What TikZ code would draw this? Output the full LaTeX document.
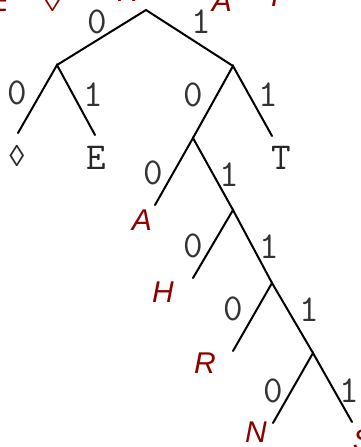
\documentclass[tikz,border=0pt]{standalone}
\usepackage{fontspec}
\setmonofont{Latin Modern Mono}
\newfontfamily\hand{Liberation Sans}
\newfontfamily\lozfont{Liberation Mono}
\begin{document}
\begin{tikzpicture}[x=1pt,y=-1pt,
 edge/.style={line width=2pt, line cap=round},
 bit/.style={font=\fontsize{38}{38}\ttfamily\selectfont, text=black!80, inner sep=0pt},
 leaf/.style={font=\fontsize{38}{38}\ttfamily\selectfont, text=black!85, inner sep=0pt},
 hw/.style={font=\hand\itshape\fontsize{30}{30}\selectfont, text=red!55!black, inner sep=0pt}]
\clip (0,0) rectangle (360,447);
% tree points
\coordinate (r) at (146,10);
\coordinate (a) at (57,65);
\coordinate (b) at (233,66);
\coordinate (l1) at (18,133);
\coordinate (l2) at (95,135);
\coordinate (c) at (193,138);
\coordinate (l3) at (272,136);
\coordinate (l4) at (155,205);
\coordinate (d) at (233,210);
\coordinate (l5) at (193,278);
\coordinate (e) at (272,283);
\coordinate (l6) at (233,351);
\coordinate (f) at (313,353);
\coordinate (l7) at (273,423);
\coordinate (l8) at (352,422);
% edges
\draw[edge] (a) -- (r) -- (b);
\draw[edge] (l1) -- (a) -- (l2);
\draw[edge] (c) -- (b) -- (l3);
\draw[edge] (l4) -- (c) -- (d);
\draw[edge] (l5) -- (d) -- (e);
\draw[edge] (l6) -- (e) -- (f);
\draw[edge] (l7) -- (f) -- (l8);
% bit labels
\node[bit] (r0) at (97,22) {0};
\node[bit] (r1) at (201,22) {1};
\node[bit] (a0) at (17,93) {0};
\node[bit] (a1) at (93,95) {1};
\node[bit] (b0) at (193,95) {0};
\node[bit] (b1) at (268,95) {1};
\node[bit] (c0) at (153,173) {0};
\node[bit] (c1) at (229,175) {1};
\node[bit] (d0) at (193,246) {0};
\node[bit] (d1) at (269,247) {1};
\node[bit] (e0) at (233,309) {0};
\node[bit] (e1) at (309,310) {1};
\node[bit] (f0) at (273,391) {0};
\node[bit] (f1) at (349,391) {1};
% leaf labels
\node[leaf] (t1) at (17,156) {\lozfont\fontsize{30}{30}\selectfont ◊};
\node[leaf] (t2) at (96,158) {E};
\node[leaf] (t3) at (281,158) {T};
% handwritten labels
\node[hw] (hA) at (142,220) {A};
\node[hw] (hH) at (163,292) {H};
\node[hw] (hR) at (205,363) {R};
\node[hw] (hN) at (256,432) {N};
\node[hw] (hS) at (363,440) {S};
% top row (cropped)
\node[hw] (uE) at (-1,1) {E};
\node[hw] (uD) at (52,1) {◊};
\node[hw] (uR) at (128,-9) {R};
\node[hw] (uA) at (222,1) {A};
\node[hw] (uT) at (275,-4) {T};
\end{tikzpicture}
\end{document}
